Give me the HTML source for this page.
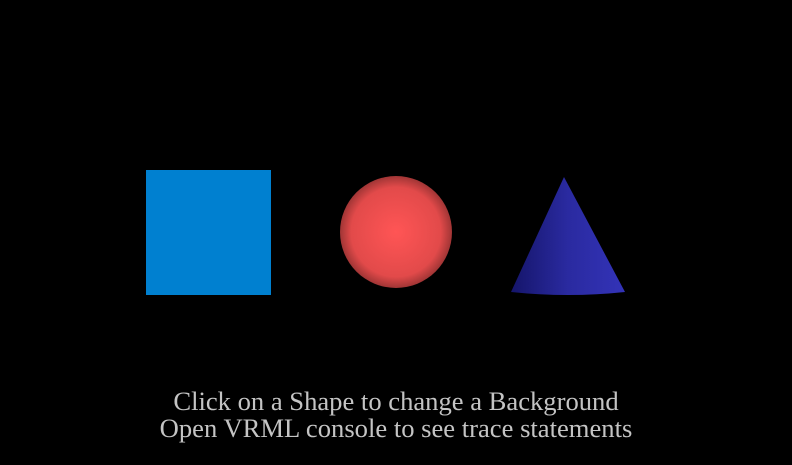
<!DOCTYPE html>
<html><head><meta charset="utf-8"><style>
html,body{margin:0;padding:0;background:#000;width:792px;height:465px;overflow:hidden}
.t{position:absolute;left:0;width:792px;text-align:center;color:#c4c4c4;font-family:"Liberation Serif",serif;font-size:26.6px;line-height:28px}
</style></head><body>
<svg width="792" height="465" style="position:absolute;left:0;top:0">
<defs>
<radialGradient id="sg" cx="0.5" cy="0.5" r="0.5">
<stop offset="0" stop-color="#ff5555"/><stop offset="0.8" stop-color="#e24a4a"/><stop offset="1" stop-color="#a03535"/>
</radialGradient>
<linearGradient id="cg" x1="0" y1="0" x2="1" y2="0">
<stop offset="0" stop-color="#15156a"/><stop offset="0.5" stop-color="#2a2aa0"/><stop offset="1" stop-color="#3333b8"/>
</linearGradient>
</defs>
<rect x="146" y="170" width="125" height="125" fill="#0080d0"/>
<circle cx="396" cy="232" r="56" fill="url(#sg)"/>
<path d="M564,177 L625,292 Q568,298 511,292 Z" fill="url(#cg)"/>
</svg>
<div class="t" style="top:387px">Click on a Shape to change a Background</div>
<div class="t" style="top:414px">Open VRML console to see trace statements</div>
</body></html>
